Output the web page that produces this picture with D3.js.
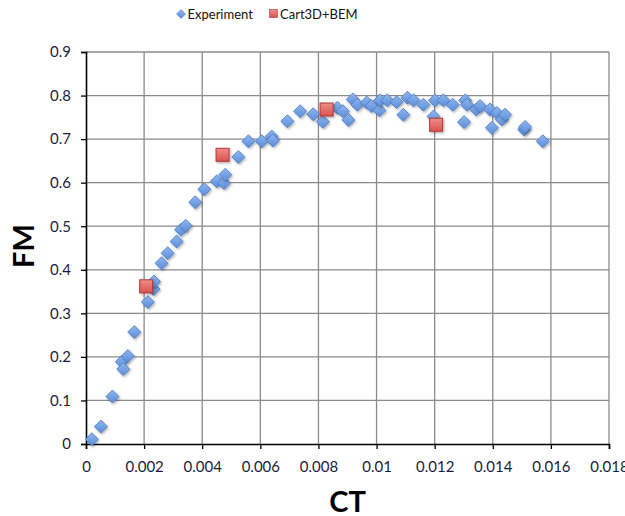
<!DOCTYPE html>
<html>
<head>
<meta charset="utf-8">
<script src="https://cdn.jsdelivr.net/npm/d3@7"></script>
<style>
  html, body { margin: 0; padding: 0; background: #fff; }
  svg { display: block; }
  text { font-family: Lato, "Open Sans", sans-serif; }
</style>
</head>
<body>
<svg id="chart"></svg>
<script>
// experiment (CT, FM)
const expCT = [0.0002, 0.00051, 0.00091, 0.00123, 0.00128, 0.00144, 0.00166, 0.00213, 0.00232, 0.00234,
  0.0026, 0.00281, 0.00312, 0.00327, 0.00343, 0.00376, 0.00407, 0.0045, 0.00475, 0.00479,
  0.00524, 0.00559, 0.00605, 0.00639, 0.00643, 0.00693, 0.00737, 0.00782, 0.00815, 0.00865,
  0.00884, 0.00903, 0.00918, 0.00934, 0.00966, 0.00982, 0.0101, 0.01012, 0.01037, 0.01069,
  0.01092, 0.01106, 0.01127, 0.01161, 0.01196, 0.01201, 0.0123, 0.01262, 0.01301, 0.01305,
  0.01311, 0.01343, 0.01356, 0.0139, 0.01397, 0.01414, 0.01431, 0.01442, 0.01508, 0.01511, 0.01572]
const expFM = [0.011, 0.040, 0.109, 0.189, 0.172, 0.202, 0.257, 0.326, 0.356, 0.373,
  0.415, 0.438, 0.465, 0.492, 0.501, 0.555, 0.585, 0.603, 0.599, 0.618,
  0.659, 0.695, 0.695, 0.706, 0.697, 0.741, 0.764, 0.757, 0.740, 0.772,
  0.764, 0.744, 0.791, 0.779, 0.784, 0.776, 0.766, 0.789, 0.789, 0.785,
  0.756, 0.795, 0.789, 0.779, 0.752, 0.789, 0.789, 0.779, 0.739, 0.789,
  0.779, 0.768, 0.776, 0.768, 0.726, 0.760, 0.745, 0.756, 0.722, 0.728, 0.695]

// Cart3D+BEM (CT, FM)
const cfdCT = [0.00207, 0.0047, 0.00828, 0.01205]
const cfdFM = [0.362, 0.664, 0.768, 0.733]

const xTicks = [0, 0.002, 0.004, 0.006, 0.008, 0.01, 0.012, 0.014, 0.016, 0.018]
const yTicks = [0, 0.1, 0.2, 0.3, 0.4, 0.5, 0.6, 0.7, 0.8, 0.9]

const width = 625
const height = 516

const svg = d3.select('#chart')
  .attr('width', width)
  .attr('height', height)

const x = d3.scaleLinear().domain([0, 0.018]).range([86, 609])
const y = d3.scaleLinear().domain([0, 0.9]).range([444, 52])

// drop shadow for markers
const defs = svg.append('defs')
const shadow = defs.append('filter').attr('id', 'shadow')
  .attr('x', '-50%').attr('y', '-50%').attr('width', '200%').attr('height', '200%')
shadow.append('feDropShadow')
  .attr('dx', 1.2).attr('dy', 1.5).attr('stdDeviation', 1)
  .attr('flood-color', '#000').attr('flood-opacity', 0.3)

const blueGrad = defs.append('linearGradient').attr('id', 'blueGrad')
  .attr('x1', 0).attr('y1', 0).attr('x2', 0).attr('y2', 1)
blueGrad.append('stop').attr('offset', '0%').attr('stop-color', '#8db6ee')
blueGrad.append('stop').attr('offset', '100%').attr('stop-color', '#5b8edb')

const redGrad = defs.append('linearGradient').attr('id', 'redGrad')
  .attr('x1', 0).attr('y1', 0).attr('x2', 0).attr('y2', 1)
redGrad.append('stop').attr('offset', '0%').attr('stop-color', '#f08c8a')
redGrad.append('stop').attr('offset', '100%').attr('stop-color', '#d9534f')

// grid
const grid = svg.append('g')
grid.selectAll('.gx')
  .data(xTicks.slice(1))
  .enter()
  .append('line')
  .attr('x1', d => x(d)).attr('x2', d => x(d))
  .attr('y1', y(0.9)).attr('y2', y(0))
  .attr('stroke', '#8a8a8a')
  .attr('stroke-width', 1.3)

grid.selectAll('.gy')
  .data(yTicks.slice(1))
  .enter()
  .append('line')
  .attr('x1', x(0)).attr('x2', x(0.018))
  .attr('y1', d => y(d)).attr('y2', d => y(d))
  .attr('stroke', '#8a8a8a')
  .attr('stroke-width', 1.3)

// axes
const fmt = d => String(+d.toFixed(3))

const xAxis = svg.append('g')
  .attr('transform', `translate(0,${y(0)})`)
  .call(d3.axisBottom(x).tickValues(xTicks).tickFormat(fmt).tickSize(5).tickPadding(12))
const yAxis = svg.append('g')
  .attr('transform', `translate(${x(0)},0)`)
  .call(d3.axisLeft(y).tickValues(yTicks).tickFormat(fmt).tickSize(5).tickPadding(10))

;[xAxis, yAxis].forEach(ax => {
  ax.select('.domain').attr('stroke', '#000').attr('stroke-width', 1.6)
  ax.selectAll('.tick line').attr('stroke', '#000').attr('stroke-width', 1.3)
  ax.selectAll('.tick text')
    .attr('fill', '#1c1c3a')
    .style('font-size', '15px')
    .style('font-family', 'Lato, sans-serif')
})

// experiment markers
const expData = expCT.map((c, i) => ({ ct: c, fm: expFM[i] }))
svg.append('g')
  .selectAll('path')
  .data(expData)
  .enter()
  .append('path')
  .attr('d', 'M0,-6.5L6.5,0L0,6.5L-6.5,0Z')
  .attr('transform', d => `translate(${x(d.ct)},${y(d.fm)})`)
  .attr('fill', 'url(#blueGrad)')
  .attr('stroke', '#4a78c0')
  .attr('stroke-width', 0.8)
  .attr('filter', 'url(#shadow)')

// Cart3D+BEM markers
const cfdData = cfdCT.map((c, i) => ({ ct: c, fm: cfdFM[i] }))
svg.append('g')
  .selectAll('rect')
  .data(cfdData)
  .enter()
  .append('rect')
  .attr('x', d => x(d.ct) - 6.5)
  .attr('y', d => y(d.fm) - 6.5)
  .attr('width', 13)
  .attr('height', 13)
  .attr('fill', 'url(#redGrad)')
  .attr('stroke', '#b03a37')
  .attr('stroke-width', 1)
  .attr('filter', 'url(#shadow)')

// axis titles
svg.append('text')
  .attr('x', x(0.009))
  .attr('y', 512)
  .attr('text-anchor', 'middle')
  .style('font-size', '29px')
  .style('font-weight', '700')
  .attr('fill', '#000')
  .text('CT')

svg.append('text')
  .attr('transform', `translate(34,${y(0.45) - 2}) rotate(-90)`)
  .attr('text-anchor', 'middle')
  .style('font-size', '29px')
  .style('font-weight', '700')
  .attr('fill', '#000')
  .text('FM')

// legend
const legend = svg.append('g')
legend.append('path')
  .attr('d', 'M0,-4.5L4.5,0L0,4.5L-4.5,0Z')
  .attr('transform', 'translate(181,14)')
  .attr('fill', 'url(#blueGrad)')
  .attr('stroke', '#4a78c0')
  .attr('stroke-width', 0.6)
legend.append('text')
  .attr('x', 187.5).attr('y', 18.5)
  .style('font-size', '13px')
  .attr('fill', '#111')
  .text('Experiment')
legend.append('rect')
  .attr('x', 269.5).attr('y', 9.5)
  .attr('width', 8).attr('height', 8)
  .attr('fill', 'url(#redGrad)')
  .attr('stroke', '#b03a37')
  .attr('stroke-width', 0.6)
legend.append('text')
  .attr('x', 280).attr('y', 18.5)
  .style('font-size', '13px')
  .attr('fill', '#111')
  .text('Cart3D+BEM')
</script>
</body>
</html>
